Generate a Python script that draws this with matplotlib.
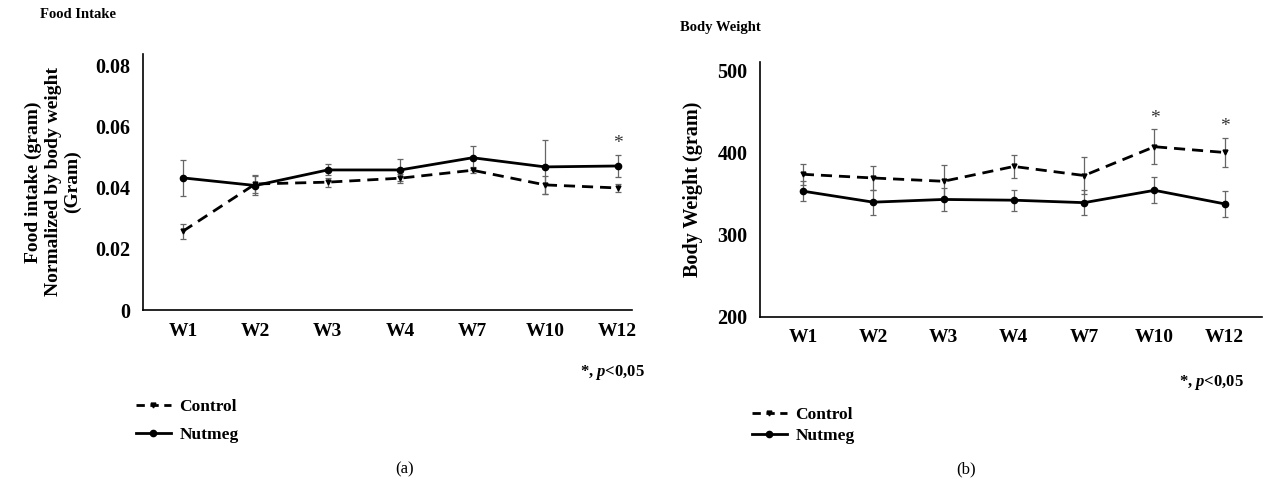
import numpy as np
import matplotlib
matplotlib.use("Agg")
import matplotlib.pyplot as plt
from matplotlib.lines import Line2D

weeks = ["W1", "W2", "W3", "W4", "W7", "W10", "W12"]

# food intake normalized by body weight
fi_control = [0.0258, 0.0413, 0.0419, 0.0432, 0.0458, 0.0410, 0.0400]
fi_control_err = [0.0025, 0.0030, 0.0015, 0.0015, 0.0010, 0.0030, 0.0012]
fi_nutmeg = [0.0433, 0.0408, 0.0459, 0.0459, 0.0499, 0.0469, 0.0472]
fi_nutmeg_err = [0.0058, 0.0030, 0.0018, 0.0037, 0.0040, 0.0089, 0.0035]

# body weight
bw_control = [373.5, 369, 365, 383, 372, 407, 400]
bw_control_err = [13, 15, 20, 14, 22, 21, 18]
bw_nutmeg = [353, 339.6, 342.9, 342, 339, 354, 337.5]
bw_nutmeg_err = [12, 15, 14, 13, 15, 16, 16]

plt.rcParams['font.family'] = ['Liberation Serif', 'DejaVu Serif']
plt.rcParams['font.weight'] = 'bold'
plt.rcParams['mathtext.fontset'] = 'custom'
plt.rcParams['mathtext.it'] = 'Liberation Serif:italic:bold'

fig = plt.figure(figsize=(12.68, 4.87), dpi=100)
ax1 = fig.add_axes([143/1268, 1-310/487, 489/1268, 256/487])
ax2 = fig.add_axes([760/1268, 1-317/487, 502/1268, 255/487])

x = np.arange(len(weeks))
dash = (0, (4, 2.5))


def draw(ax, ctrl, ctrl_err, nut, nut_err):
    ax.errorbar(x, ctrl, yerr=ctrl_err, color='black', ls=dash, lw=2,
                marker='v', ms=3.5, ecolor='#666666', elinewidth=0.9, capsize=2,
                capthick=0.9)
    ax.errorbar(x, nut, yerr=nut_err, color='black', ls='-', lw=2,
                marker='o', ms=4.5, ecolor='#666666', elinewidth=0.9, capsize=2,
                capthick=0.9)
    ax.spines['top'].set_visible(False)
    ax.spines['right'].set_visible(False)
    ax.spines['left'].set_linewidth(1.2)
    ax.spines['bottom'].set_linewidth(1.2)
    ax.set_xticks(x)
    ax.set_xticklabels(weeks, fontsize=14, fontweight='bold')
    ax.tick_params(length=0, pad=9)


draw(ax1, fi_control, fi_control_err, fi_nutmeg, fi_nutmeg_err)
ax1.set_xlim(-0.55, 6.2)
ax1.set_ylim(0, 0.0839)
ax1.set_yticks([0, 0.02, 0.04, 0.06, 0.08])
ax1.set_yticklabels(["0", "0.02", "0.04", "0.06", "0.08"], fontsize=14.5, fontweight='bold')
ax1.set_ylabel("Food intake (gram)\nNormalized by body weight\n(Gram)", fontsize=14,
               fontweight='bold', linespacing=1.2, labelpad=10)
ax1.text(6, fi_nutmeg[6] + fi_nutmeg_err[6] + 0.0010, "*", ha='center', va='bottom',
         fontsize=14, fontweight='normal', color='#333333')

draw(ax2, bw_control, bw_control_err, bw_nutmeg, bw_nutmeg_err)
ax2.set_xlim(-0.61, 6.53)
ax2.set_ylim(200, 510)
ax2.set_yticks([200, 300, 400, 500])
ax2.set_yticklabels(["200", "300", "400", "500"], fontsize=14.5, fontweight='bold')
ax2.set_ylabel("Body Weight (gram)", fontsize=14.5, fontweight='bold', labelpad=10)
for i in [5, 6]:
    ax2.text(i, bw_control[i] + bw_control_err[i] + 3, "*", ha='center', va='bottom',
             fontsize=14, fontweight='normal', color='#333333')

# panel titles
fig.text(40/1268, 1-14/487, "Food Intake", fontsize=10.5, fontweight='bold', va='center')
fig.text(680/1268, 1-27/487, "Body Weight", fontsize=10.5, fontweight='bold', va='center')

# significance notes
fig.text(580/1268, 1-373/487, "*, $p$<0,05", fontsize=12, fontweight='bold', va='center')
fig.text(1179/1268, 1-382/487, "*, $p$<0,05", fontsize=12, fontweight='bold', va='center')

# legends
handles = [Line2D([], [], color='black', ls=(0, (3, 2)), lw=2, marker='v', ms=3.5),
           Line2D([], [], color='black', ls='-', lw=2, marker='o', ms=4.5)]
labels = ["Control", "Nutmeg"]
ax1.legend(handles, labels, loc='upper left', bbox_to_anchor=(136/1268, 1-399/487),
           bbox_transform=fig.transFigure, frameon=False, borderpad=0, borderaxespad=0,
           handlelength=2.0, handletextpad=0.5, labelspacing=0.7,
           prop={'weight': 'bold', 'size': 12.5})
ax2.legend(handles, labels, loc='upper left', bbox_to_anchor=(752/1268, 1-407/487),
           bbox_transform=fig.transFigure, frameon=False, borderpad=0, borderaxespad=0,
           handlelength=2.0, handletextpad=0.5, labelspacing=0.28,
           prop={'weight': 'bold', 'size': 12.5})

fig.text(405/1268, 1-469/487, "(a)", fontsize=12, fontweight='normal', ha='center', va='center')
fig.text(966/1268, 1-469/487, "(b)", fontsize=12, fontweight='normal', ha='center', va='center')

fig.savefig("out.png", dpi=100)
